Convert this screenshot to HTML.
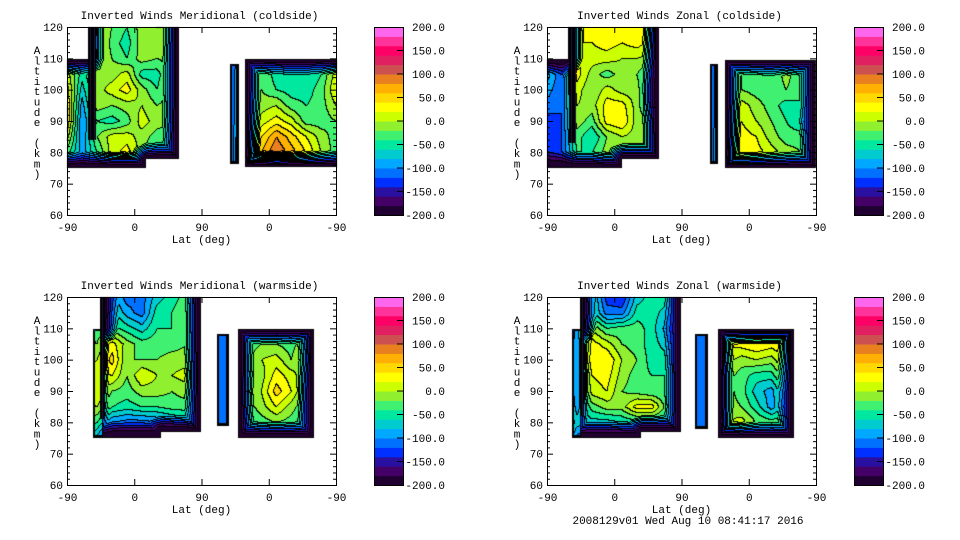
<!DOCTYPE html>
<html><head><meta charset="utf-8"><style>
html,body{margin:0;padding:0;background:#fff;width:960px;height:540px;overflow:hidden}
#wrap{position:relative;width:960px;height:540px}
canvas,svg{position:absolute;left:0;top:0}
text{font-family:"Liberation Mono","DejaVu Sans Mono",monospace;font-size:11px;fill:#000}
</style></head><body>
<div id="wrap">
<canvas id="cv" width="960" height="540"></canvas>
<svg id="sv" width="960" height="540" xmlns="http://www.w3.org/2000/svg"></svg>
</div>
<script>
// ---- data ----
const levels=[-200,-180,-160,-140,-120,-100,-80,-60,-40,-20,0,20,40,60,80,100,120,140,160,180,200];
const colors=["#200030","#440066","#2a10a0","#0030ff","#0070ff","#00a8ff","#00ccd0","#00e8a0","#40f070","#90f030","#ccff00","#ffff00","#ffd800","#ffb000","#e88020","#cc5050","#e02060","#ff0066","#ff3399","#ff66ee"];
const cbarLabels=["200.0","150.0","100.0","50.0","0.0","-50.0","-100.0","-150.0","-200.0"];
const latCols=[0,20,40,60,80,100,120,140,160,180,200,220,240,260,280,300,320,340,360];
const altRows=[120,115,110,105,100,95,90,85,80,75];
const yTicks=[120,110,100,90,80,70,60];
const xTickLabels=["-90","0","90","0","-90"];
const titles=["Inverted Winds Meridional (coldside)","Inverted Winds Zonal (coldside)","Inverted Winds Meridional (warmside)","Inverted Winds Zonal (warmside)"];
const p1Vals=[
[0,0,30,-10,-30,0,10,10,10,10,-110,-110,-40,-40,-40,-40,-40,-40,-20],
[0,0,40,-20,-40,0,10,0,0,0,-110,-110,-40,-40,-40,-40,-40,-40,-20],
[-20,-20,30,-10,-30,0,-10,0,0,0,-110,-110,-40,-40,-40,-40,-40,-40,-20],
[20,-40,0,0,20,-40,-40,0,0,0,-110,-110,-20,-10,-40,-50,-50,-30,20],
[40,-60,0,20,40,0,-30,0,0,0,-110,-110,-20,-10,-30,-40,-40,-20,30],
[50,-80,0,-10,0,10,-10,0,0,0,-110,-110,-10,0,10,-20,-30,-20,10],
[50,-90,-30,-40,-20,20,0,-10,0,0,-110,-110,0,20,40,20,-20,-20,-10],
[20,-90,-10,20,20,0,-20,-20,0,0,-110,-110,20,50,90,60,30,0,-20],
[-20,-80,-30,20,40,0,-40,-40,0,0,-110,-110,40,70,110,80,50,10,-20],
[-60,-80,-60,-40,-40,-40,-60,-60,0,0,-110,-110,20,40,50,40,20,0,-20]];
const p2Vals=[
[-100,-110,30,40,50,40,50,40,0,0,-110,-110,0,0,0,0,0,0,0],
[-100,-110,30,30,40,30,40,20,0,0,-110,-110,0,0,0,0,0,0,0],
[-80,-110,30,20,20,10,10,0,0,0,-110,-110,-10,-10,-20,-20,-20,-20,-20],
[-60,-110,40,0,-20,0,-10,-40,0,0,-110,-110,-10,-10,-20,-30,0,-30,-10],
[-80,-110,20,-10,20,0,0,-60,0,0,-110,-110,0,-10,-20,-30,-10,-30,-10],
[-100,-110,10,0,40,40,0,-50,0,0,-110,-110,-10,20,0,-20,-40,-30,-20],
[-120,-110,0,-20,40,50,0,-10,0,0,-110,-110,0,30,10,-10,-30,-50,-20],
[-120,-110,-20,-50,-10,10,0,0,0,0,-110,-110,10,40,30,0,-20,-20,-20],
[-130,-110,-30,-30,0,0,0,0,0,0,-110,-110,40,50,40,20,0,-10,-20],
[-130,-120,-60,-60,-40,-40,-40,-40,0,0,-110,-110,20,30,20,10,0,-10,-20]];
const p3Vals=[
[0,0,-40,-60,-100,-100,-60,-40,-20,-20,-110,-110,-40,-40,-40,-40,-40,0,0],
[0,0,-40,-40,-80,-100,-40,-30,-10,-10,-110,-110,-40,-40,-40,-40,-40,0,0],
[0,0,-20,-20,-40,-60,-30,-30,-10,-10,-110,-110,-30,-30,-20,-30,-20,0,0],
[0,0,-10,40,0,-20,-20,-20,-10,0,-110,-110,-20,-10,-10,-20,10,0,0],
[0,0,10,60,-10,-10,-10,0,0,0,-110,-110,-20,10,20,-10,30,0,0],
[0,0,20,30,-10,30,10,10,20,0,-110,-110,-20,0,40,20,-10,0,0],
[0,0,30,-10,-20,0,0,-10,0,0,-110,-110,-10,10,60,30,-20,0,0],
[0,0,10,-30,-40,-30,-30,-20,-20,0,-110,-110,-20,0,30,0,-30,0,0],
[0,0,-30,-90,-100,-100,-90,-80,-60,0,-110,-110,-40,-20,-10,-20,-40,0,0],
[0,0,-80,-140,-140,-140,-140,-140,-140,0,-110,-110,-80,-60,-60,-60,-60,0,0]];
const p4Vals=[
[0,0,-40,-40,-120,-130,-60,-40,-40,0,-110,-110,0,0,0,0,0,0,0],
[0,0,-60,-40,-100,-100,-40,-40,-60,0,-110,-110,0,0,0,0,0,0,0],
[0,0,-80,10,-30,-20,-20,-40,-80,0,-110,-110,0,10,20,20,20,0,0],
[0,0,-90,40,20,-10,-20,-40,-60,0,-110,-110,30,40,50,40,50,0,0],
[0,0,-90,50,50,10,-10,-40,-40,0,-110,-110,20,0,10,0,40,0,0],
[0,0,-90,30,40,0,-20,-30,-30,0,-110,-110,0,-20,-40,-40,10,0,0],
[0,0,-90,20,30,-10,-20,-30,-30,0,-110,-110,0,-20,-60,-80,-20,0,0],
[0,0,-80,-20,0,0,40,40,-20,0,-110,-110,0,-10,-40,-80,-40,0,0],
[0,0,-60,-60,-60,-50,-40,-40,-50,0,-110,-110,10,20,-10,-20,-10,0,0],
[0,0,-100,-120,-120,-120,-120,-120,-120,0,-110,-110,-20,-10,-30,-30,-30,0,0]];
// data regions [u0,u1,altBottom,altTop]
const p1Regions=[[0,30,75.3,110],[30,105,75.3,120],[105,149,78,120],[217,229,76.3,108.5],[238,360,75.5,110]];
const p2Regions=[[0,28,75.3,110],[28,100,75.3,120],[100,149,78,120],[217,228,76.3,108.5],[238,359,75.3,109.5]];
const p3Regions=[[34,48,75.3,110],[48,125,75.3,120],[125,178,77,120],[200,216,79,108.5],[228,330,75.3,110]];
const p4Regions=[[33,45,75.3,110],[45,125,75.3,120],[125,178,77,120],[197,215,78,108.4],[228,330,75.3,110]];
const p1Strips=[[28,39,84,120]];
const p2Strips=[[29,39,83,120]];
const p3Strips=[[44,51,81,120]];
const p4Strips=[[44,50,82,120]];
const valueOffset=-10;

// ---- geometry ----
const PW=269,PH=188;
const panels=[
 {ox:67,oy:27,vals:p1Vals,reg:p1Regions,strips:p1Strips},
 {ox:547,oy:27,vals:p2Vals,reg:p2Regions,strips:p2Strips},
 {ox:67,oy:297,vals:p3Vals,reg:p3Regions,strips:p3Strips},
 {ox:547,oy:297,vals:p4Vals,reg:p4Regions,strips:p4Strips}];
function xs(u){return u/360*PW;}
function ys(a){return (120-a)/60*PH;}
function hexRGB(h){return [parseInt(h.slice(1,3),16),parseInt(h.slice(3,5),16),parseInt(h.slice(5,7),16)];}
const rgb=colors.map(hexRGB);
function interp(vals,u,a){
 let c=(u-latCols[0])/(latCols[1]-latCols[0]);c=Math.max(0,Math.min(latCols.length-1.0001,c));
 let r=(altRows[0]-a)/(altRows[0]-altRows[1]);r=Math.max(0,Math.min(altRows.length-1.0001,r));
 const c0=Math.floor(c),r0=Math.floor(r),fc=c-c0,fr=r-r0;
 const v00=vals[r0][c0],v01=vals[r0][c0+1],v10=vals[r0+1][c0],v11=vals[r0+1][c0+1];
 return (v00*(1-fc)+v01*fc)*(1-fr)+(v10*(1-fc)+v11*fc)*fr+valueOffset;
}
const cv=document.getElementById('cv');const ctx=cv.getContext('2d');
const img=ctx.createImageData(960,540);
for(let i=0;i<img.data.length;i+=4){img.data[i]=255;img.data[i+1]=255;img.data[i+2]=255;img.data[i+3]=255;}
function setPx(x,y,c){const i=(y*960+x)*4;img.data[i]=c[0];img.data[i+1]=c[1];img.data[i+2]=c[2];}
const W=PW+1,H=PH+1;
panels.forEach(p=>{
 const inside=new Int8Array(W*H),Fw=new Float32Array(W*H);
 for(let py=0;py<H;py++)for(let px=0;px<W;px++){
  p.reg.forEach(r=>{
   const x0=xs(r[0]),x1=xs(r[1]),y0=ys(r[3]),y1=ys(r[2]);
   if(px>=x0&&px<=x1&&py>=y0&&py<=y1){inside[py*W+px]=1;Fw[py*W+px]=(r[1]-r[0])<25?2.5:16;}
  });
 }
 const INF=1e9,d=new Float32Array(W*H);
 for(let i=0;i<W*H;i++)d[i]=inside[i]?INF:0;
 const g=(x,y)=>(x<0||y<0||x>=W||y>=H)?INF:d[y*W+x];
 for(let y=0;y<H;y++)for(let x=0;x<W;x++){const i=y*W+x;if(!d[i])continue;
  d[i]=Math.min(d[i],g(x-1,y)+1,g(x,y-1)+1,g(x-1,y-1)+1.414,g(x+1,y-1)+1.414);}
 for(let y=H-1;y>=0;y--)for(let x=W-1;x>=0;x--){const i=y*W+x;if(!d[i])continue;
  d[i]=Math.min(d[i],g(x+1,y)+1,g(x,y+1)+1,g(x+1,y+1)+1.414,g(x-1,y+1)+1.414);}
 const band=new Int8Array(W*H).fill(-1);
 for(let py=0;py<H;py++)for(let px=0;px<W;px++){
  const i=py*W+px;if(!inside[i])continue;
  const f=Math.min(1,(d[i]-0.5)/Fw[i]);
  const v=interp(p.vals,px/PW*360,120-py/PH*60);
  const val=-218+(v+218)*Math.max(0,f);
  let b=Math.floor((val-levels[0])/20);b=Math.max(0,Math.min(19,b));
  band[i]=b;
 }
 for(let py=0;py<H;py++)for(let px=0;px<W;px++){
  const b=band[py*W+px];if(b<0)continue;
  let line=false;
  if(px<PW&&band[py*W+px+1]!==b&&band[py*W+px+1]>=0)line=true;
  if(py<PH&&band[(py+1)*W+px]!==b&&band[(py+1)*W+px]>=0)line=true;
  if(d[py*W+px]<1.2)line=true;
  setPx(p.ox+px,p.oy+py,line?[0,0,0]:rgb[b]);
 }
 p.strips.forEach(s=>{
  const x0=Math.round(xs(s[0])),x1=Math.round(xs(s[1])),y0=Math.round(ys(s[3])),y1=Math.round(ys(s[2]));
  for(let y=y0;y<y1;y++)for(let x=x0;x<x1;x++){
   const k=(x-x0)%4===2?[30,20,60]:[0,0,0];
   setPx(p.ox+x,p.oy+y,k);
  }
 });
});
ctx.putImageData(img,0,0);

// ---- SVG axes ----
const NS="http://www.w3.org/2000/svg";const sv=document.getElementById('sv');
function mk(tag,attrs,parent){const e=document.createElementNS(NS,tag);for(const k in attrs)e.setAttribute(k,attrs[k]);(parent||sv).appendChild(e);return e;}
panels.forEach((p,pi)=>{
 const g=mk('g',{});
 
 
 const t=mk('text',{x:p.ox+PW/2-2,y:p.oy-8,'text-anchor':'middle'},g);t.textContent=titles[pi];
 
 
 const box=mk('rect',{x:p.ox+0.5,y:p.oy+0.5,width:PW,height:PH,fill:'none',stroke:'#000','stroke-width':1},g);
 
 
 for(let a=60;a<=120;a+=2){
  const y=p.oy+ys(a)+0.5,maj=(a%10===0);const L=maj?6:3;
  mk('line',{x1:p.ox,x2:p.ox+L,y1:y,y2:y,stroke:'#000'},g);
  mk('line',{x1:p.ox+PW-L,x2:p.ox+PW,y1:y,y2:y,stroke:'#000'},g);
 }
 yTicks.forEach(a=>{
  const tt=mk('text',{x:p.ox-4,y:p.oy+ys(a)+4,'text-anchor':'end'},g);tt.textContent=String(a);
  
  
 });
 xTickLabels.forEach((lab,i)=>{
  const x=p.ox+xs(i*90)+0.5;
  if(i>0&&i<4){mk('line',{x1:x,x2:x,y1:p.oy+PH,y2:p.oy+PH-6,stroke:'#000'},g);mk('line',{x1:x,x2:x,y1:p.oy,y2:p.oy+6,stroke:'#000'},g);}
  const tt=mk('text',{x:x,y:p.oy+PH+16,'text-anchor':'middle'},g);tt.textContent=lab;
  
  
 });
 const xl=mk('text',{x:p.ox+PW/2,y:p.oy+PH+28,'text-anchor':'middle'},g);xl.textContent="Lat (deg)";
 
 
 const yl=mk('text',{x:p.ox-30,y:p.oy+26,'text-anchor':'middle'},g);
 
 
 "Altitude (km)".split('').forEach((ch,i)=>{const ts=mk('tspan',{x:p.ox-30,y:p.oy+27+i*10.3},yl);ts.textContent=ch;});
 const cx=p.ox+307,cw=29;
 const cb=mk('g',{},g);
 
 
 colors.forEach((c,i)=>{
  const y0=p.oy+PH-(i+1)*PH/colors.length;
  const r=mk('rect',{x:cx,y:y0,width:cw,height:PH/colors.length+0.5,fill:c},cb);
  
  
 });
 mk('rect',{x:cx+0.5,y:p.oy+0.5,width:cw,height:PH,fill:'none',stroke:'#000'},cb);
 cbarLabels.forEach((lab,i)=>{
  const y=p.oy+i*PH/(cbarLabels.length-1);
  if(i>0&&i<cbarLabels.length-1)mk('line',{x1:cx+cw-6,x2:cx+cw,y1:y,y2:y,stroke:'#000'},cb);
  const tt=mk('text',{x:cx+71,y:y+4,'text-anchor':'end'},cb);tt.textContent=lab;
  
  
 });
});
const ft=mk('text',{x:688,y:524,'text-anchor':'middle'});ft.textContent="2008129v01 Wed Aug 10 08:41:17 2016";


</script>
</body></html>
